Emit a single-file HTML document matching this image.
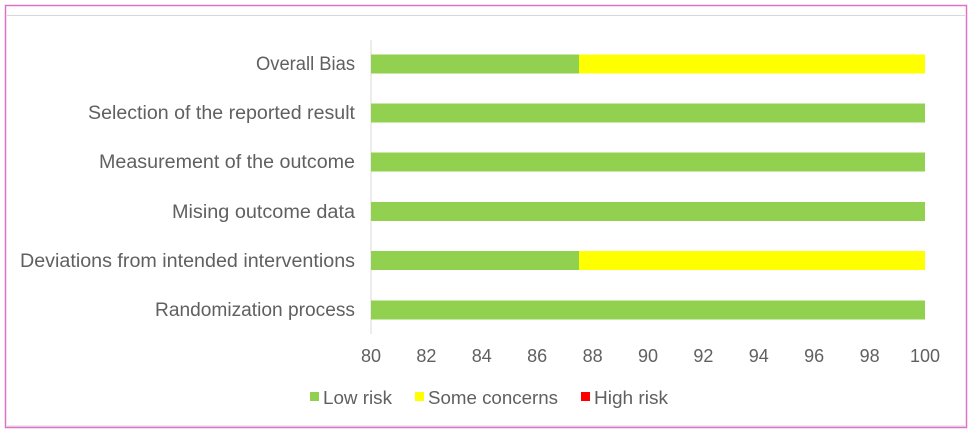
<!DOCTYPE html><html><head><style>body{margin:0;background:#fff}</style></head><body>
<svg width="973" height="431" xmlns="http://www.w3.org/2000/svg" font-family="Liberation Sans, sans-serif">
<rect x="5.5" y="5.5" width="961" height="422" fill="#fff" stroke="#e070c8" stroke-width="1.5"/>
<line x1="7" y1="15.5" x2="965" y2="15.5" stroke="#d8d8d8"/>
<line x1="7" y1="426" x2="965" y2="426" stroke="#d8d8d8"/>
<line x1="371" y1="40" x2="371" y2="334" stroke="#d9d9d9"/>
<g fill="#92d050">
<rect x="371" y="54.5" width="208" height="19"/>
<rect x="371" y="103.5" width="554" height="19"/>
<rect x="371" y="152.5" width="554" height="19"/>
<rect x="371" y="202" width="554" height="19"/>
<rect x="371" y="251" width="208" height="19"/>
<rect x="371" y="300.5" width="554" height="19"/>
</g>
<g fill="#ffff00"><rect x="579" y="54.5" width="346" height="19"/><rect x="579" y="251" width="346" height="19"/></g>
<g font-size="19" fill="#606060" text-anchor="end" lengthAdjust="spacingAndGlyphs">
<text x="355" y="70" textLength="99" lengthAdjust="spacingAndGlyphs">Overall Bias</text>
<text x="355" y="119" textLength="267" lengthAdjust="spacingAndGlyphs">Selection of the reported result</text>
<text x="355" y="168" textLength="256" lengthAdjust="spacingAndGlyphs">Measurement of the outcome</text>
<text x="355" y="218" textLength="183" lengthAdjust="spacingAndGlyphs">Mising outcome data</text>
<text x="355" y="267" textLength="335" lengthAdjust="spacingAndGlyphs">Deviations from intended interventions</text>
<text x="355" y="316" textLength="200" lengthAdjust="spacingAndGlyphs">Randomization process</text>
</g>
<g font-size="18" fill="#606060" text-anchor="middle">
<text x="371" y="362">80</text><text x="426.4" y="362">82</text><text x="481.8" y="362">84</text><text x="537.2" y="362">86</text><text x="592.6" y="362">88</text><text x="648" y="362">90</text><text x="703.4" y="362">92</text><text x="758.8" y="362">94</text><text x="814.2" y="362">96</text><text x="869.6" y="362">98</text><text x="925" y="362">100</text>
</g>
<rect x="310" y="392" width="9" height="9" fill="#92d050"/>
<rect x="415" y="392" width="9" height="9" fill="#ffff00"/>
<rect x="581" y="392" width="9" height="9" fill="#ff0000"/>
<g font-size="18" fill="#606060">
<text x="323" y="404" textLength="69" lengthAdjust="spacingAndGlyphs">Low risk</text><text x="428" y="404" textLength="130" lengthAdjust="spacingAndGlyphs">Some concerns</text><text x="594" y="404" textLength="74" lengthAdjust="spacingAndGlyphs">High risk</text>
</g>
</svg></body></html>
